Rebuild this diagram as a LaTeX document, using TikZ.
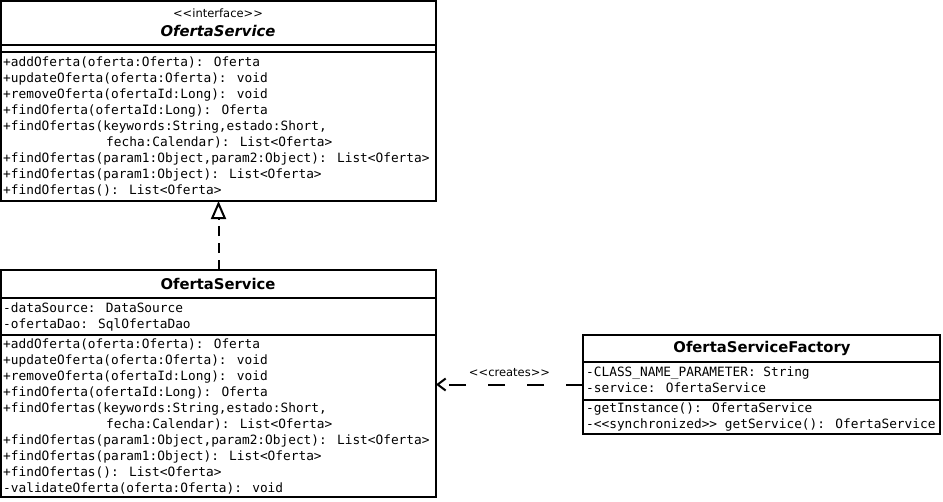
\documentclass[tikz,border=0pt]{standalone}
\usepackage{fontspec}
\setmainfont{DejaVu Sans}[Ligatures=TeXOff]
\newfontfamily\membfont{DejaVu Sans Mono}[Ligatures=TeXOff]
\usetikzlibrary{arrows.meta}

\tikzset{
  classbox/.style={draw, line width=2pt, fill=white, inner sep=0pt, outer sep=0pt},
  sepline/.style={line width=2pt},
  member/.style={anchor=base west, inner sep=0pt, font=\membfont\fontsize{12.8}{16}\selectfont},
  stereo/.style={inner sep=0pt, font=\fontsize{11.5}{14}\selectfont},
  classname/.style={inner sep=0pt, font=\bfseries\fontsize{14.8}{17}\selectfont},
  realizes/.style={line width=2pt, dash pattern=on 10pt off 7pt,
    -{Triangle[open, length=18pt, width=15pt, line width=2pt]}},
  creates/.style={line width=2pt, dash pattern=on 17pt off 22pt,
    -{Straight Barb[length=8pt, width=12pt, line width=2pt]}},
}

\begin{document}
\begin{tikzpicture}[x=1pt, y=-1pt]
\useasboundingbox (0,0) rectangle (943,501);

% ---------- interface OfertaService ----------
\node[classbox, minimum width=435pt, minimum height=200pt] (iface) at (218.5,101) {};
\draw[sepline] (1,45) -- (436,45);
\draw[sepline] (1,52) -- (436,52);
\node[stereo] (iface-st) at (218,13) {<<interface>>};
\node[classname, font=\bfseries\itshape\fontsize{14.8}{17}\selectfont] (iface-name) at (218,31) {OfertaService};
\node[member] (i1) at (3,66.5) {+addOferta(oferta:Oferta): Oferta};
\node[member] (i2) at (3,82.5) {+updateOferta(oferta:Oferta): void};
\node[member] (i3) at (3,98.5) {+removeOferta(ofertaId:Long): void};
\node[member] (i4) at (3,114.5) {+findOferta(ofertaId:Long): Oferta};
\node[member] (i5) at (3,130.5) {+findOfertas(keywords:String,estado:Short,};
\node[member] (i6) at (106,146.5) {fecha:Calendar): List<Oferta>};
\node[member] (i7) at (3,162.5) {+findOfertas(param1:Object,param2:Object): List<Oferta>};
\node[member] (i8) at (3,178.5) {+findOfertas(param1:Object): List<Oferta>};
\node[member] (i9) at (3,194.5) {+findOfertas(): List<Oferta>};

% ---------- class OfertaService ----------
\node[classbox, minimum width=435pt, minimum height=227pt] (impl) at (218.5,383.5) {};
\draw[sepline] (1,298) -- (436,298);
\draw[sepline] (1,335) -- (436,335);
\node[classname] (impl-name) at (218,284) {OfertaService};
\node[member] (a1) at (3,312.5) {-dataSource: DataSource};
\node[member] (a2) at (3,328.5) {-ofertaDao: SqlOfertaDao};
\node[member] (o1) at (3,348.5) {+addOferta(oferta:Oferta): Oferta};
\node[member] (o2) at (3,364.5) {+updateOferta(oferta:Oferta): void};
\node[member] (o3) at (3,380.5) {+removeOferta(ofertaId:Long): void};
\node[member] (o4) at (3,396.5) {+findOferta(ofertaId:Long): Oferta};
\node[member] (o5) at (3,412.5) {+findOfertas(keywords:String,estado:Short,};
\node[member] (o6) at (106,428.5) {fecha:Calendar): List<Oferta>};
\node[member] (o7) at (3,444.5) {+findOfertas(param1:Object,param2:Object): List<Oferta>};
\node[member] (o8) at (3,460.5) {+findOfertas(param1:Object): List<Oferta>};
\node[member] (o9) at (3,476.5) {+findOfertas(): List<Oferta>};
\node[member] (o10) at (3,492.5) {-validateOferta(oferta:Oferta): void};

% ---------- class OfertaServiceFactory ----------
\node[classbox, minimum width=357pt, minimum height=99pt] (factory) at (761.5,384.5) {};
\draw[sepline] (583,362) -- (940,362);
\draw[sepline] (583,400) -- (940,400);
\node[classname] (factory-name) at (762,348) {OfertaServiceFactory};
\node[member] (f1) at (586,376.5) {-CLASS\_NAME\_PARAMETER: String};
\node[member] (f2) at (586,392.5) {-service: OfertaService};
\node[member] (f3) at (586,412.5) {-getInstance(): OfertaService};
\node[member] (f4) at (586,428.5) {-<<synchronized>> getService(): OfertaService};

% ---------- relations ----------
\draw[realizes] (impl.north) -- (iface.south);
\draw[creates] (factory.west) -- (impl.east |- factory.west)
  node[pos=0.5, stereo, yshift=12pt] (creates-label) {<<creates>>};

\end{tikzpicture}
\end{document}
